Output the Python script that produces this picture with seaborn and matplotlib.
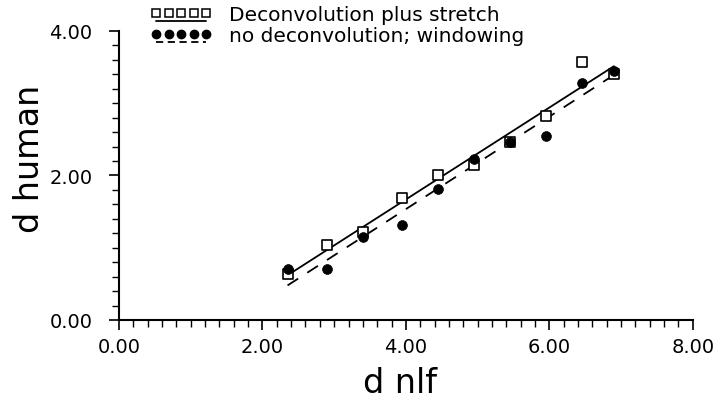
import numpy as np
import pandas as pd
import matplotlib
matplotlib.use("Agg")
import matplotlib.pyplot as plt
import seaborn as sns
from matplotlib.lines import Line2D
from matplotlib.legend_handler import HandlerLine2DCompound
from matplotlib.ticker import FixedLocator, MultipleLocator, FormatStrFormatter

# Measured distances: human observers vs. the nlf model
d_nlf = [2.35, 2.9, 3.4, 3.95, 4.45, 4.95, 5.45, 5.95, 6.45, 6.9]
d_human_deconv = [0.63, 1.04, 1.22, 1.69, 2.00, 2.14, 2.47, 2.82, 3.57, 3.40]
d_human_window = [0.70, 0.71, 1.15, 1.32, 1.82, 2.23, 2.46, 2.55, 3.28, 3.45]
series_labels = ["Deconvolution plus stretch", "no deconvolution; windowing"]
x_ticks = [0, 2, 4, 6, 8]
y_ticks = [0, 2, 4]

sns.set_theme(style="white")
plt.rcParams["font.family"] = ["DejaVu Sans"]
plt.rcParams["text.color"] = "black"
plt.rcParams["axes.labelcolor"] = "black"
plt.rcParams["xtick.color"] = "black"
plt.rcParams["ytick.color"] = "black"

df = pd.DataFrame({"d_nlf": d_nlf,
                   "deconv": d_human_deconv,
                   "window": d_human_window})

fig = plt.figure(figsize=(7.15, 4.02), dpi=100)
ax = fig.add_axes([0.1664, 0.2015, 0.8026, 0.7189])

# least-squares lines for each processing variant
sns.regplot(data=df, x="d_nlf", y="deconv", scatter=False, ci=None,
            truncate=True, ax=ax,
            line_kws=dict(color="black", lw=1.3, zorder=2))
sns.regplot(data=df, x="d_nlf", y="window", scatter=False, ci=None,
            truncate=True, ax=ax,
            line_kws=dict(color="black", lw=1.3, dashes=(7, 6), zorder=2))

# data points
sns.scatterplot(data=df, x="d_nlf", y="deconv", marker="s", s=55,
                facecolor="white", edgecolor="black", linewidth=1.2,
                ax=ax, zorder=3)
sns.scatterplot(data=df, x="d_nlf", y="window", marker="o", s=50,
                color="black", edgecolor="black", linewidth=0.5,
                ax=ax, zorder=4)

ax.set_xlim(0, 8)
ax.set_ylim(0, 4)
for side in ("top", "right"):
    ax.spines[side].set_visible(False)
for side in ("left", "bottom"):
    ax.spines[side].set_color("black")
    ax.spines[side].set_linewidth(1.5)

ax.xaxis.set_major_locator(FixedLocator(x_ticks))
ax.yaxis.set_major_locator(FixedLocator(y_ticks))
ax.xaxis.set_minor_locator(MultipleLocator(0.2))
ax.yaxis.set_minor_locator(MultipleLocator(0.2))
ax.xaxis.set_major_formatter(FormatStrFormatter("%.2f"))
ax.yaxis.set_major_formatter(FormatStrFormatter("%.2f"))
ax.tick_params(which="major", direction="out", length=7, width=1.2,
               labelsize=14, bottom=True, left=True)
ax.tick_params(axis="x", which="major", pad=5)
ax.tick_params(axis="y", which="major", pad=12)
ax.tick_params(which="minor", direction="out", length=5, width=1.0,
               bottom=True, left=True)

ax.set_xlabel("d nlf", fontsize=24)
ax.set_ylabel("d human", fontsize=24)
ax.xaxis.set_label_coords(0.49, -0.16)
ax.yaxis.set_label_coords(-0.128, 0.56)


class UnderlinedHandler(HandlerLine2DCompound):
    """Legend entry with the marker row sitting above its line sample."""

    def create_artists(self, legend, orig_handle, xdescent, ydescent,
                       width, height, fontsize, trans):
        artists = super().create_artists(legend, orig_handle, xdescent,
                                         ydescent, width, height,
                                         fontsize, trans)
        line = artists[0]
        line.set_ydata(np.asarray(line.get_ydata()) - 0.6 * height)
        return artists


h_deconv = Line2D([], [], color="black", lw=1.3, ls="-", marker="s",
                  markersize=5.8, mfc="white", mec="black", mew=1.1)
h_window = Line2D([], [], color="black", lw=1.3, ls=(0, (4, 2.5)),
                  marker="o", markersize=6.0, mfc="black", mec="black")
ax.legend(handles=[h_deconv, h_window], labels=series_labels,
          loc="upper left", bbox_to_anchor=(150 / 715, 1 - 6 / 402),
          bbox_transform=fig.transFigure, frameon=False, numpoints=5,
          handlelength=3.1, handletextpad=0.8, labelspacing=0.1,
          borderpad=0, borderaxespad=0, fontsize=14.5,
          handler_map={Line2D: UnderlinedHandler(numpoints=5)})

fig.savefig("out.png", dpi=100, facecolor="white")
